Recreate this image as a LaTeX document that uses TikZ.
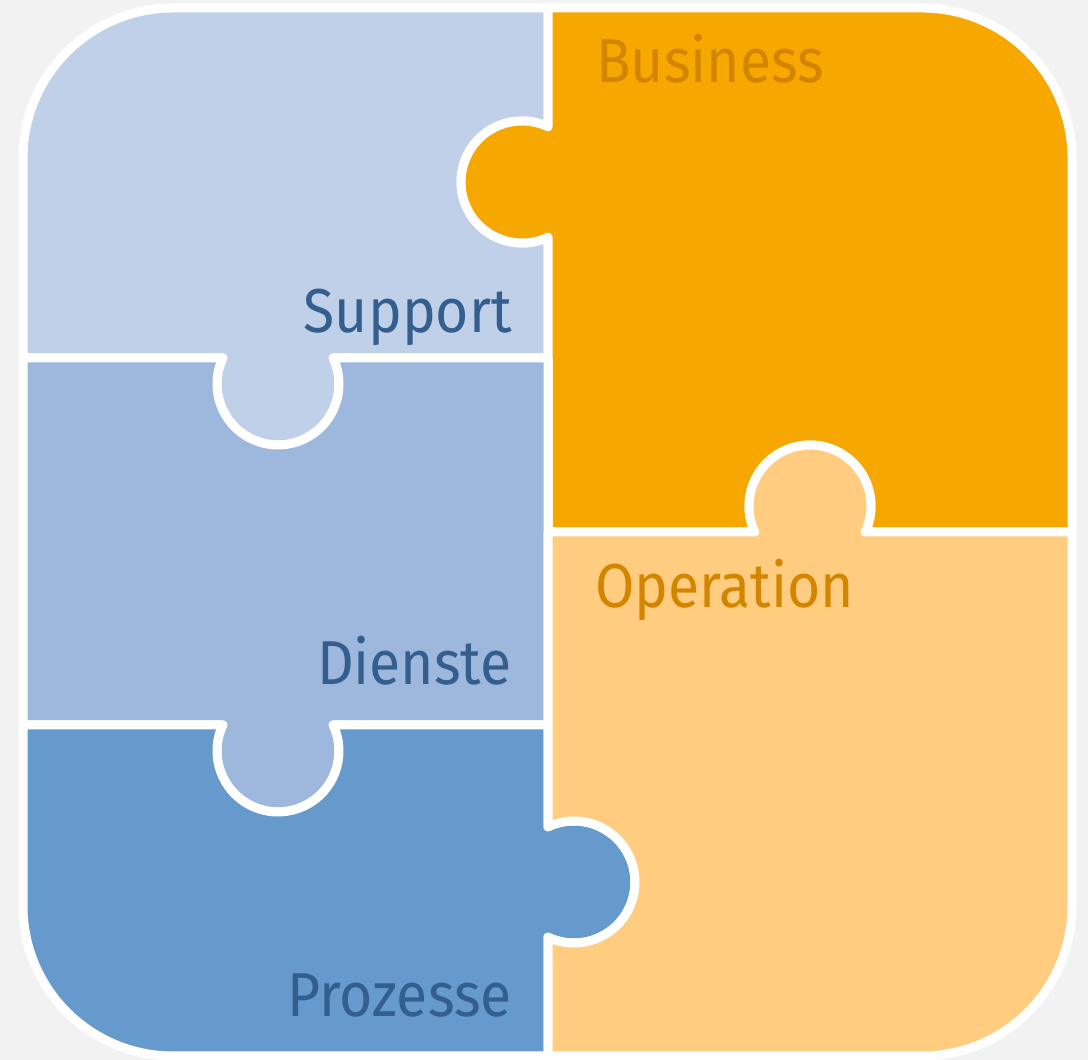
\documentclass[tikz,border=0pt]{standalone}
\usepackage{fontspec}
\setmainfont{Fira Sans}[FakeStretch=0.92]
\usetikzlibrary{positioning}
\definecolor{background}{RGB}{242,242,242}
\definecolor{support}{RGB}{191,208,232}
\definecolor{dienste}{RGB}{157,184,220}
\definecolor{prozesse}{RGB}{102,153,204}
\definecolor{business}{RGB}{246,168,0}
\definecolor{operation}{RGB}{255,204,128}
\definecolor{bluetext}{RGB}{52,94,142}
\definecolor{orangetext}{RGB}{212,133,0}

\begin{document}
\begin{tikzpicture}[x=1pt, y=1pt]
  \tikzstyle{piece} = [draw=white, line width=9pt, line join=round]
  \tikzstyle{label} = [inner sep=0pt, font=\fontsize{62}{70}\selectfont]
  \fill [background] (0,0) rectangle (1088,1060);
  \useasboundingbox (0,0) rectangle (1088,1060);

  % Pieces
  \path [piece, fill=support] (548,1052) -- (548,933.2)
      arc [start angle=64.8, end angle=295.2, radius=61pt] -- (548,702) -- (333.2,702)
      arc [start angle=25.2, end angle=-205.2, radius=61pt] -- (23,702) -- (23,902)
      arc [start angle=180, end angle=90, radius=150pt] -- cycle;
  \path [piece, fill=business] (548,1052) -- (922,1052)
      arc [start angle=90, end angle=0, radius=150pt] -- (1072,528) -- (865.2,528)
      arc [start angle=-25.2, end angle=205.2, radius=61pt] -- (548,528) -- (548,822.8)
      arc [start angle=295.2, end angle=64.8, radius=61pt] -- cycle;
  \path [piece, fill=dienste] (23,702) -- (222.8,702)
      arc [start angle=154.8, end angle=385.2, radius=61pt] -- (548,702) -- (548,335) -- (333.2,335)
      arc [start angle=25.2, end angle=-205.2, radius=61pt] -- (23,335) -- cycle;
  \path [piece, fill=prozesse] (23,335) -- (222.8,335)
      arc [start angle=154.8, end angle=385.2, radius=61pt] -- (548,335) -- (548,233.2)
      arc [start angle=115.2, end angle=-115.2, radius=61pt] -- (548,4) -- (173,4)
      arc [start angle=270, end angle=180, radius=150pt] -- cycle;
  \path [piece, fill=operation] (548,528) -- (754.8,528)
      arc [start angle=205.2, end angle=-25.2, radius=61pt] -- (1072,528) -- (1072,154)
      arc [start angle=0, end angle=-90, radius=150pt] -- (548,4) -- (548,122.8)
      arc [start angle=-115.2, end angle=115.2, radius=61pt] -- cycle;

  % Place nodes
  \node [label, text=bluetext, anchor=base east] (support) at (512,727) {Support};
  \node [label, text=bluetext, anchor=base east] (dienste) at (512,375) {Dienste};
  \node [label, text=bluetext, anchor=base east] (prozesse) at (512,43) {Prozesse};
  \node [label, text=orangetext, anchor=base west] (business) at (596,977) {Business};
  \node [label, text=orangetext, anchor=base west] (operation) at (595,452) {Operation};

\end{tikzpicture}
\end{document}
